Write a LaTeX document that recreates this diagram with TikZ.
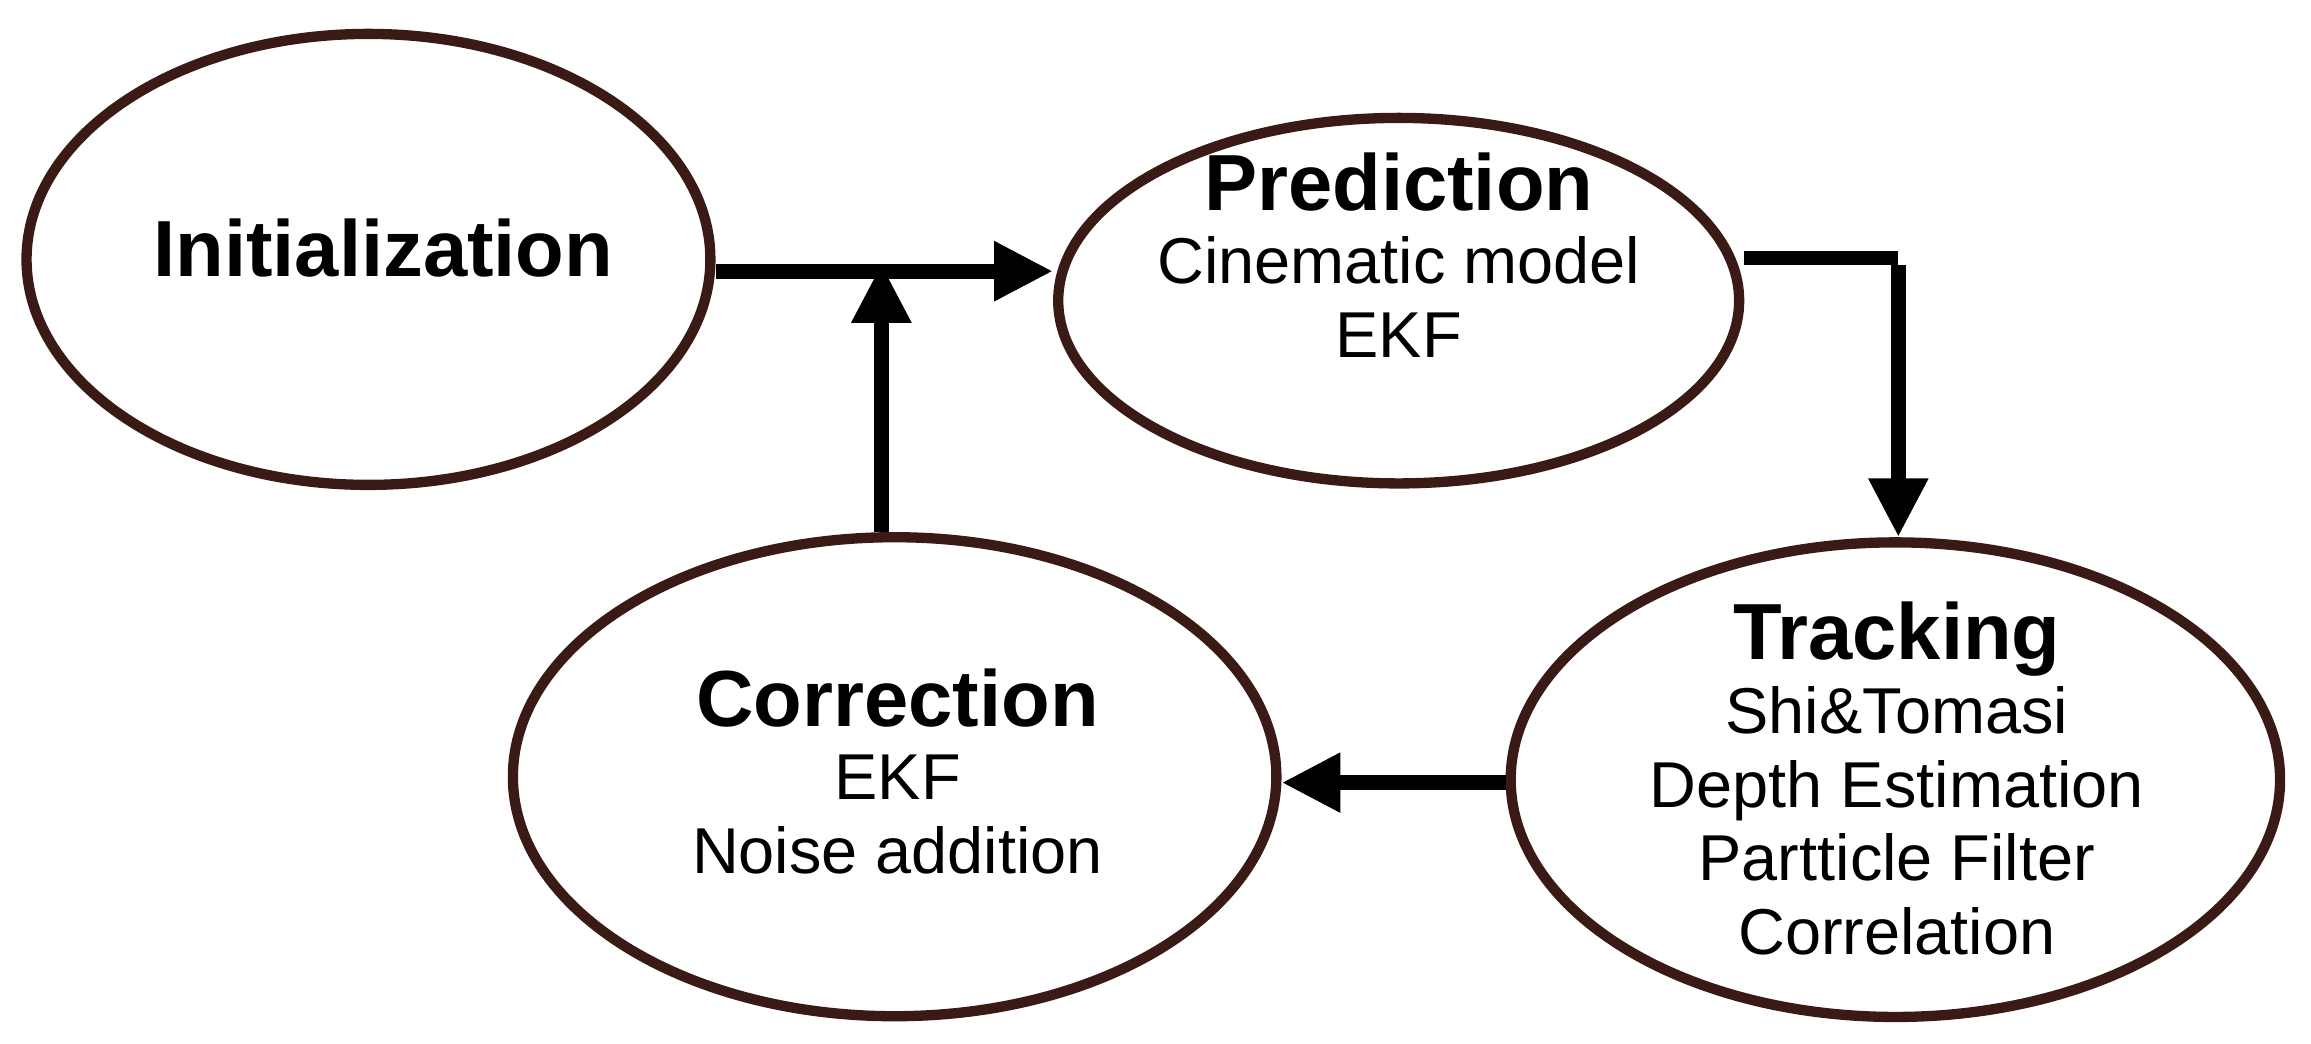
\documentclass[tikz,border=0pt]{standalone}
\usepackage{fontspec}
\setmainfont{Liberation Sans}
\usetikzlibrary{arrows.meta,shapes.geometric}
\definecolor{brd}{HTML}{3A1A14}
\begin{document}
\begin{tikzpicture}[x=1pt,y=-1pt,
  ell/.style={draw=brd,line width=7pt,ellipse,inner sep=0pt},
  txt/.style={align=center,font=\fontsize{44}{50}\selectfont},
  ttl/.style={font=\fontsize{54}{60}\selectfont\bfseries},
  arr/.style={line width=10pt,-{Triangle[length=40pt,width=38pt]}}]
\useasboundingbox (0,0) rectangle (1568,708);
\node[ell,minimum width=464pt,minimum height=306pt] (init) at (250,176) {};
\node[ell,minimum width=462pt,minimum height=248pt] (pred) at (949,204) {};
\node[ell,minimum width=518pt,minimum height=325pt] (corr) at (607,527) {};
\node[ell,minimum width=522pt,minimum height=322pt] (trk) at (1286,529) {};
\node[ttl] (tinit) at (260,168) {Initialization};
\node[txt,anchor=north] (tpred) at (949,100) {{\fontsize{54}{60}\selectfont\bfseries Prediction}\\Cinematic model\\EKF};
\node[txt,anchor=north] (tcorr) at (609,450) {{\fontsize{54}{60}\selectfont\bfseries Correction}\\EKF\\Noise addition};
\node[txt,anchor=north] (ttrk) at (1287,405) {{\fontsize{54}{60}\selectfont\bfseries Tracking}\\Shi\&Tomasi\\Depth Estimation\\Partticle Filter\\Correlation};
\coordinate (j) at (598,184);
\coordinate (k) at (1288,175);
\draw[arr] (init.east |- j) -- (pred.west |- j);
\draw[arr] (corr.north -| j) -- ([yshift=5pt]j);
\draw[line width=10pt] (pred.east |- k) -- (k);
\draw[arr] ([yshift=-5pt]k) -- (trk.north -| k);
\draw[arr] (trk.west |- 0,531) -- (corr.east |- 0,531);
\end{tikzpicture}
\end{document}
